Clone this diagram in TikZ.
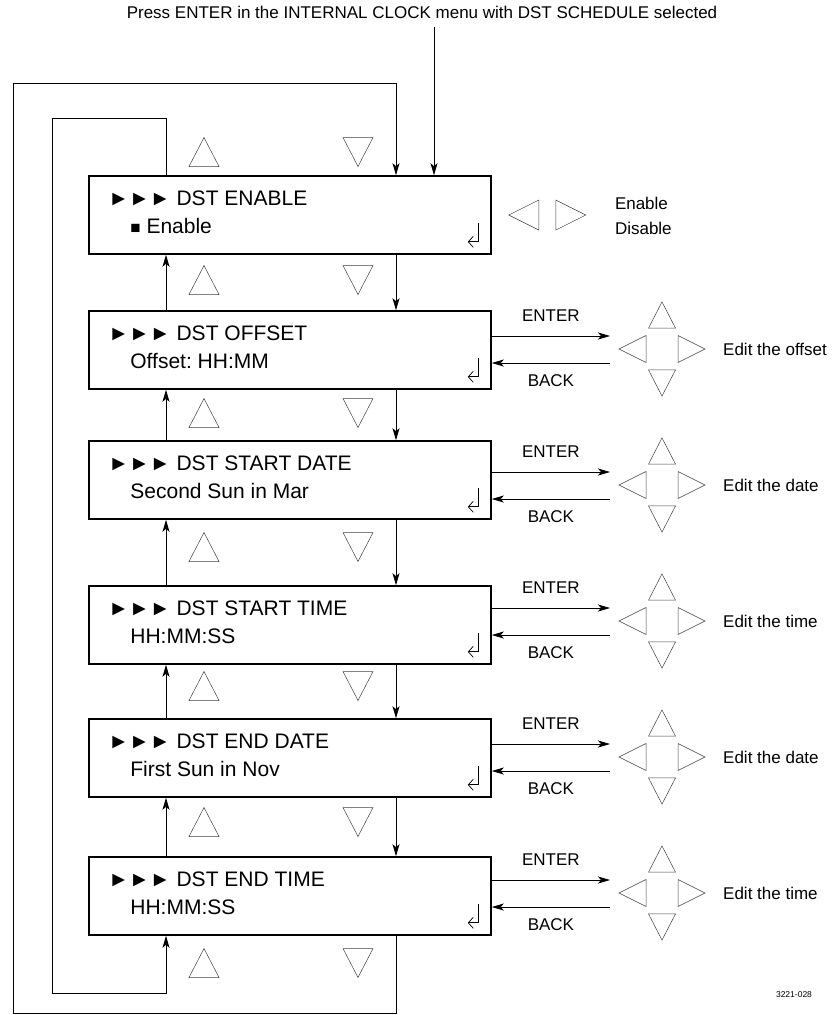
\documentclass[tikz,border=0pt]{standalone}
\usepackage{fontspec}
\setmainfont{Liberation Sans}
\usetikzlibrary{arrows.meta,positioning,calc}
\frenchspacing

\tikzset{
  uptri/.pic={\draw[keytri] (-15,14.5) -- (15,14.5) -- (0,-14.5) -- cycle;},
  downtri/.pic={\draw[keytri] (-15,-14.5) -- (15,-14.5) -- (0,14.5) -- cycle;},
  lefttri/.pic={\draw[keytri] (15,-15) -- (15,15) -- (-15,0) -- cycle;},
  righttri/.pic={\draw[keytri] (-15,-15) -- (-15,15) -- (15,0) -- cycle;}
}

\begin{document}
\begin{tikzpicture}[x=1pt,y=-1pt,
    menubox/.style={draw,line width=1.6pt,minimum width=402pt,minimum height=78pt,inner sep=0pt},
    link/.style={line width=0.8pt,-{Stealth[length=12pt,width=7pt,inset=3pt]}},
    retline/.style={line width=0.7pt,-{Straight Barb[length=5pt,width=11pt]}},
    keytri/.style={draw=black!75,line width=0.5pt},
    boxtxt/.style={anchor=west,inner sep=0pt,font=\fontsize{21}{24}\selectfont},
    sidetxt/.style={inner sep=0pt,font=\fontsize{17}{20}\selectfont}]
  \useasboundingbox (0,0) rectangle (835,1015);

  % Entry from the clock menu
  \node[sidetxt] (title) at (422,12) {Press ENTER in the INTERNAL CLOCK menu with DST SCHEDULE selected};
  \coordinate (in) at (434,27);
  \coordinate (upx) at (166,0);
  \coordinate (dnx) at (396,0);

  % Menu boxes
  \foreach \i/\y/\head/\sub in {1/215/DST ENABLE/{\fontsize{17}{17}\selectfont■} Enable,
      2/350/DST OFFSET/Offset: HH:MM,
      3/480/DST START DATE/Second Sun in Mar,
      4/625/DST START TIME/HH:MM:SS,
      5/758/DST END DATE/First Sun in Nov,
      6/896/DST END TIME/HH:MM:SS} {
    \node[menubox] (b\i) at (290,\y) {};
    \node[boxtxt] (h\i) at ([shift={(20,23)}]b\i.north west) {►►► \head};
    \node[boxtxt] (s\i) at ([shift={(42,51)}]b\i.north west) {\sub};
    \draw[retline] ([shift={(-13,-32)}]b\i.south east) -- ++(0,19) -- ++(-11,0);
  }
  \draw[link] (in) -- (in |- b1.north);

  % Up and down keys between the boxes
  \pic at (204,152) {uptri};
  \pic at (358,152) {downtri};
  \foreach \i/\j/\ty in {1/2/280,2/3/413,3/4/547,4/5/686,5/6/822} {
    \pic at (204,\ty) {uptri};
    \pic at (358,\ty) {downtri};
    \draw[link] (b\j.north -| upx) -- (b\i.south -| upx);
    \draw[link] (b\i.south -| dnx) -- (b\j.north -| dnx);
  }
  \pic at (204,963) {uptri};
  \pic at (358,963) {downtri};

  % Wrap-around loops
  \coordinate (obl) at (13,1013);
  \coordinate (otl) at (13,83);
  \coordinate (ibl) at (52,993);
  \coordinate (itl) at (52,118);
  \draw[link] (b6.south -| dnx) |- (obl) -- (otl) -| (b1.north -| dnx);
  \draw[link] (b1.north -| upx) |- (itl) -- (ibl) -| (b6.south -| upx);

  % Enable choice
  \pic at ([shift={(32,0)}]b1.east) {lefttri};
  \pic at ([shift={(79,0)}]b1.east) {righttri};
  \node[sidetxt,anchor=west] (en) at ([shift={(123,-12)}]b1.east) {Enable};
  \node[sidetxt,anchor=west] (dis) at ([shift={(123,13)}]b1.east) {Disable};

  % Edit keys
  \foreach \i/\cy/\what in {2/349/offset,3/485/date,4/621/time,5/757/date,6/893/time} {
    \coordinate (c\i) at (662,\cy);
    \coordinate (e\i) at ([shift={(-52,-13)}]c\i);
    \coordinate (r\i) at ([shift={(-52,14)}]c\i);
    \draw[link] (b\i.east |- e\i) -- (e\i) node[sidetxt,midway,above=14pt] {ENTER};
    \draw[link] (r\i) -- (b\i.east |- r\i) node[sidetxt,midway,below=11pt] {BACK};
    \pic[scale=0.9] at ([shift={(0,-34)}]c\i) {uptri};
    \pic[scale=0.9] at ([shift={(-29.5,0)}]c\i) {lefttri};
    \pic[scale=0.9] at ([shift={(29.5,0)}]c\i) {righttri};
    \pic[scale=0.9] at ([shift={(0,34)}]c\i) {downtri};
    \node[sidetxt,anchor=west] (x\i) at ([shift={(61,0)}]c\i) {Edit the \what};
  }

  \node[inner sep=0pt,font=\fontsize{8.5}{10}\selectfont] (fig) at (794,995) {3221-028};
\end{tikzpicture}
\end{document}
